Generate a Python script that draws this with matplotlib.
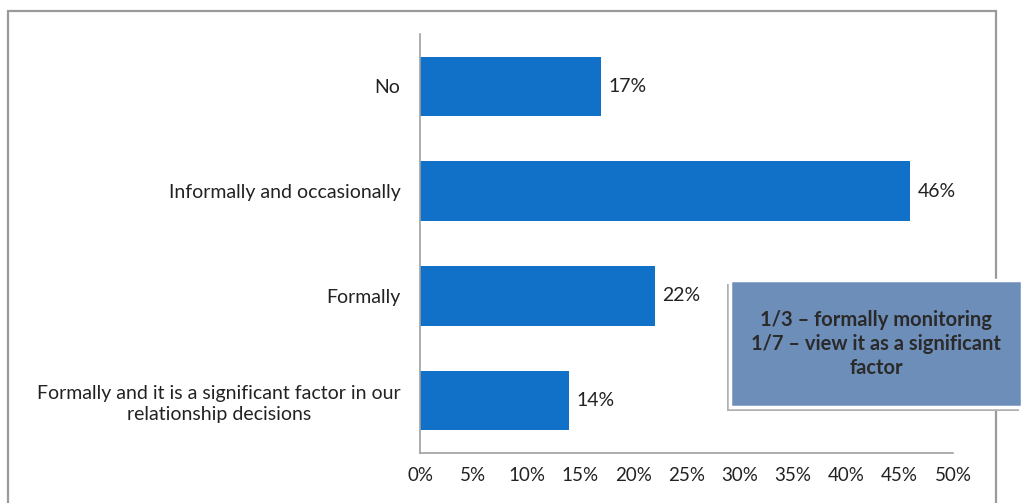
import matplotlib
matplotlib.use("Agg")
import matplotlib.pyplot as plt
from matplotlib.patches import Rectangle

categories = ["No", "Informally and occasionally", "Formally",
              "Formally and it is a significant factor in our\nrelationship decisions"]
values = [0.17, 0.46, 0.22, 0.14]
value_labels = ["17%", "46%", "22%", "14%"]
xticks = [0, 0.05, 0.10, 0.15, 0.20, 0.25, 0.30, 0.35, 0.40, 0.45, 0.50]
xtick_labels = ["0%", "5%", "10%", "15%", "20%", "25%", "30%", "35%", "40%", "45%", "50%"]
box_text = "1/3 \u2013 formally monitoring\n1/7 \u2013 view it as a significant\nfactor"

plt.rcParams['font.family'] = ['Lato', 'DejaVu Sans']
W, H = 1026, 503
fig = plt.figure(figsize=(W/100, H/100), dpi=100)
fig.patch.set_facecolor('white')

def fx(px): return px / W
def fy(py): return 1 - py / H

# outer frame
fig.patches.append(Rectangle((fx(8), fy(520)), fx(996) - fx(8), fy(11) - fy(520),
                             transform=fig.transFigure, fill=False,
                             edgecolor='#9a9a9a', lw=1.6, zorder=0))

ax = fig.add_axes([fx(420), fy(453), fx(953) - fx(420), fy(34) - fy(453)])
y = list(range(len(categories)))
ax.barh(y, values, height=0.57, color='#1170C8', zorder=2)
ax.set_ylim(len(categories) - 0.5, -0.5)
ax.set_xlim(0, 0.5)
ax.set_yticks(y)
ax.set_yticklabels(categories, fontsize=14, color='#222222', ha='right',
                   multialignment='center', linespacing=1.25)
ax.tick_params(axis='y', length=0, pad=14)
ax.set_xticks(xticks)
ax.set_xticklabels(xtick_labels, fontsize=13.5, color='#222222')
ax.tick_params(axis='x', length=0, pad=10)
for s in ['top', 'right']:
    ax.spines[s].set_visible(False)
for s in ['left', 'bottom']:
    ax.spines[s].set_color('#a0a0a0')
    ax.spines[s].set_linewidth(1.2)
for yi, v, lab in zip(y, values, value_labels):
    ax.text(v + 0.007, yi, lab, va='center', ha='left', fontsize=14, color='#222222')

# call-out box with shadow
x0, x1, y0, y1 = 730, 1022, 280, 407
fig.patches.append(Rectangle((fx(x0 - 3), fy(y1 + 4)), fx(x1) - fx(x0), fy(y0) - fy(y1),
                             transform=fig.transFigure, facecolor='#b0b0b0',
                             edgecolor='none', zorder=3))
fig.patches.append(Rectangle((fx(x0), fy(y1)), fx(x1) - fx(x0), fy(y0) - fy(y1),
                             transform=fig.transFigure, facecolor='#6E8EBA',
                             edgecolor='white', lw=2.5, zorder=4))
fig.text(fx((x0 + x1) / 2), fy(344), box_text, ha='center', va='center',
         fontsize=14.5, fontweight='bold', color='#2a2a2a', linespacing=1.22, zorder=5)

fig.savefig('out.png', dpi=100)
